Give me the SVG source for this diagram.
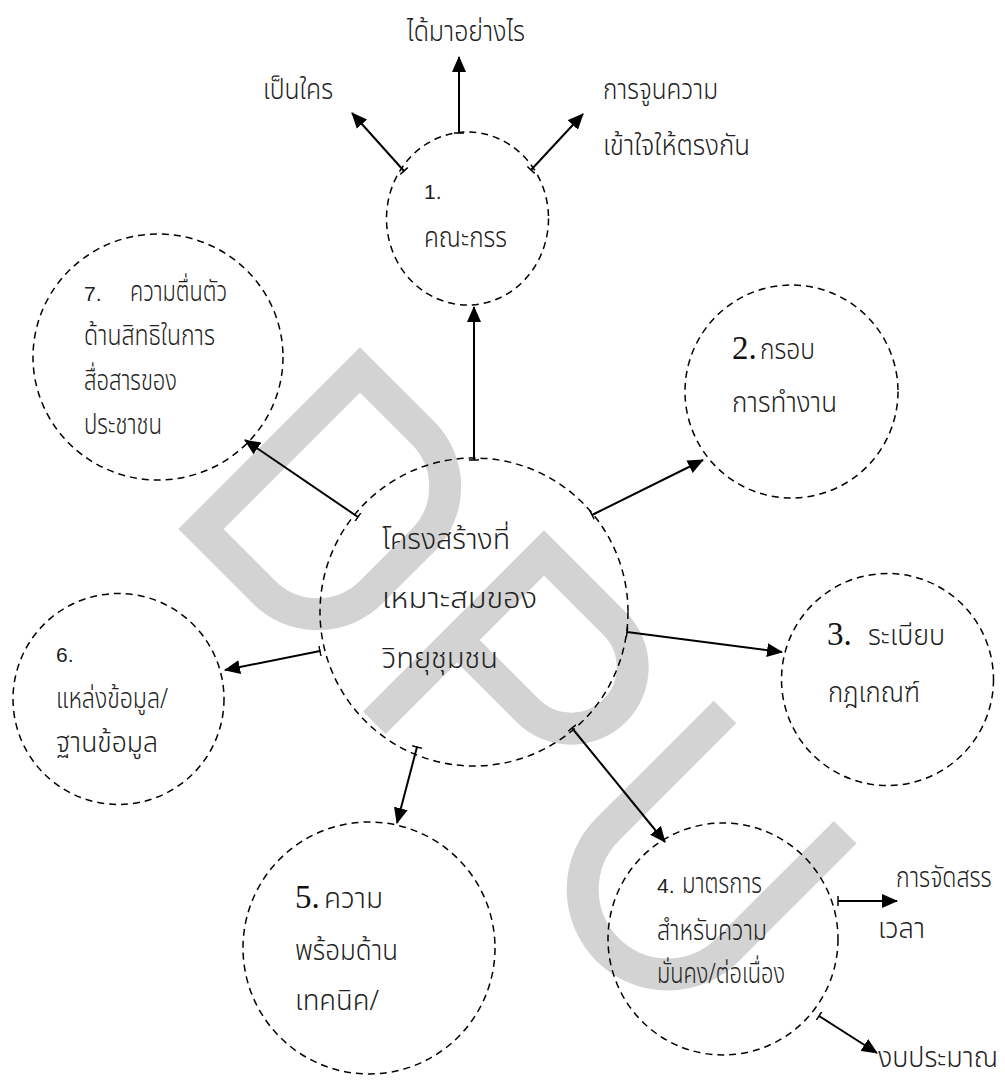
<svg xmlns="http://www.w3.org/2000/svg" width="1005" height="1080" viewBox="0 0 1005 1080">
<style>
.wm{fill:none;stroke:#d3d3d3;stroke-width:32;stroke-linejoin:miter;stroke-linecap:butt}
.node{fill:none;stroke:#000;stroke-width:1.5;stroke-dasharray:7 5}
.th{font-family:"Noto Sans Thai","Noto Sans","DejaVu Sans",sans-serif;font-size:28px;font-weight:300;fill:#222}
.num{font-family:"Liberation Sans",Arial,sans-serif;font-size:21px;fill:#222}
.big{font-family:"Liberation Serif","Times New Roman",serif;font-size:33px;fill:#111}
.edge{fill:none;stroke:#000;stroke-width:2;marker-end:url(#ah);marker-start:url(#tk)}
</style>
<defs>
<marker id="ah" viewBox="0 0 16 14" refX="15" refY="7" markerWidth="16" markerHeight="14" markerUnits="userSpaceOnUse" orient="auto"><path d="M0,0 L16,7 L0,14 Z" fill="#000"/></marker>
<marker id="tk" viewBox="0 0 4 10" refX="1" refY="5" markerWidth="4" markerHeight="10" markerUnits="userSpaceOnUse" orient="auto"><path d="M1,0 V10" stroke="#000" stroke-width="1.5"/></marker>
</defs>
<rect width="1005" height="1080" fill="#fff"/>
<g id="watermark">
<path class="wm" transform="translate(360,370) rotate(45)" d="M0,0 H89 A76,76 0 0 1 165,76 V149 A76,76 0 0 1 89,225 H0 Z"/>
<path class="wm" transform="translate(544,553) rotate(45)" d="M0,240 V0 H100 A61.5,61.5 0 0 1 100,123 H0"/>
<path class="wm" transform="translate(725,712) rotate(45)" d="M0,0 V166 A85,85 0 0 0 170,166 V0"/>
</g>
<g id="connectors">
<path class="edge" d="M474,460 V307"/>
<path class="edge" d="M459,133 V57"/>
<path class="edge" d="M404,171 L352,113"/>
<path class="edge" d="M531,170 L583,114"/>
<path class="edge" d="M358,517 L245,440"/>
<path class="edge" d="M592,515 L703,460"/>
<path class="edge" d="M627,632 L782,652"/>
<path class="edge" d="M572,728 L665,842"/>
<path class="edge" d="M417,747 L397,823"/>
<path class="edge" d="M320,651 L225,670"/>
<path class="edge" d="M838,901 L897,901"/>
<path class="edge" d="M819,1016 L877,1053"/>
</g>
<g id="labels">
<text class="th" x="407" y="41" textLength="118" lengthAdjust="spacingAndGlyphs">ได้มาอย่างไร</text>
<text class="th" x="263" y="99" textLength="70" lengthAdjust="spacingAndGlyphs">เป็นใคร</text>
<text class="th" x="603" y="99" textLength="115" lengthAdjust="spacingAndGlyphs">การจูนความ</text>
<text class="th" x="603" y="155" textLength="147" lengthAdjust="spacingAndGlyphs">เข้าใจให้ตรงกัน</text>
<text class="th" transform="translate(896,887) scale(0.66,1)" x="0" y="0" textLength="145" lengthAdjust="spacingAndGlyphs">การจัดสรร</text>
<text class="th" x="878" y="938" textLength="47" lengthAdjust="spacingAndGlyphs">เวลา</text>
<text class="th" x="878" y="1067" textLength="120" lengthAdjust="spacingAndGlyphs">งบประมาณ</text>
</g>
<g id="node1">
<ellipse class="node" cx="467.5" cy="218.5" rx="81" ry="86.5"/>
<text class="num" x="424" y="199">1.</text>
<text class="th" x="424" y="247" textLength="83" lengthAdjust="spacingAndGlyphs">คณะกรร</text>
</g>
<g id="node2">
<circle class="node" cx="791.5" cy="391.5" r="106.5"/>
<text class="big" x="732" y="359">2.</text>
<text class="th" x="760" y="359" textLength="55" lengthAdjust="spacingAndGlyphs">กรอบ</text>
<text class="th" x="732" y="412" textLength="105" lengthAdjust="spacingAndGlyphs">การทำงาน</text>
</g>
<g id="node3">
<circle class="node" cx="887.5" cy="679.5" r="106"/>
<text class="big" x="827" y="645">3.</text>
<text class="th" x="868" y="645" textLength="77" lengthAdjust="spacingAndGlyphs">ระเบียบ</text>
<text class="th" x="828" y="702" textLength="92" lengthAdjust="spacingAndGlyphs">กฎเกณฑ์</text>
</g>
<g id="node4">
<ellipse class="node" cx="723" cy="939" rx="115" ry="116"/>
<text class="num" x="657" y="893">4.</text>
<text class="th" x="682" y="893" textLength="80" lengthAdjust="spacingAndGlyphs">มาตรการ</text>
<text class="th" x="657" y="940" textLength="110" lengthAdjust="spacingAndGlyphs">สำหรับความ</text>
<text class="th" x="657" y="983" textLength="128" lengthAdjust="spacingAndGlyphs">มั่นคง/ต่อเนื่อง</text>
</g>
<g id="node5">
<circle class="node" cx="369" cy="948" r="126"/>
<text class="big" x="295" y="908">5.</text>
<text class="th" x="324" y="908" textLength="59" lengthAdjust="spacingAndGlyphs">ความ</text>
<text class="th" x="295" y="960" textLength="103" lengthAdjust="spacingAndGlyphs">พร้อมด้าน</text>
<text class="th" x="295" y="1010" textLength="84" lengthAdjust="spacingAndGlyphs">เทคนิค/</text>
</g>
<g id="node6">
<circle class="node" cx="118.5" cy="699" r="105.5"/>
<text class="num" x="56" y="662">6.</text>
<text class="th" x="56" y="708" textLength="112" lengthAdjust="spacingAndGlyphs">แหล่งข้อมูล/</text>
<text class="th" x="56" y="752" textLength="102" lengthAdjust="spacingAndGlyphs">ฐานข้อมูล</text>
</g>
<g id="node7">
<ellipse class="node" cx="158" cy="357" rx="125" ry="123"/>
<text class="num" x="84" y="301">7.</text>
<text class="th" x="130" y="301" textLength="97" lengthAdjust="spacingAndGlyphs">ความตื่นตัว</text>
<text class="th" x="84" y="345" textLength="131" lengthAdjust="spacingAndGlyphs">ด้านสิทธิในการ</text>
<text class="th" x="84" y="390" textLength="93" lengthAdjust="spacingAndGlyphs">สื่อสารของ</text>
<text class="th" x="84" y="434" textLength="78" lengthAdjust="spacingAndGlyphs">ประชาชน</text>
</g>
<g id="center">
<circle class="node" cx="474" cy="612" r="154"/>
<text class="th" x="382" y="549" textLength="128" lengthAdjust="spacingAndGlyphs">โครงสร้างที่</text>
<text class="th" x="382" y="608" textLength="155" lengthAdjust="spacingAndGlyphs">เหมาะสมของ</text>
<text class="th" x="382" y="668" textLength="116" lengthAdjust="spacingAndGlyphs">วิทยุชุมชน</text>
</g>
</svg>
